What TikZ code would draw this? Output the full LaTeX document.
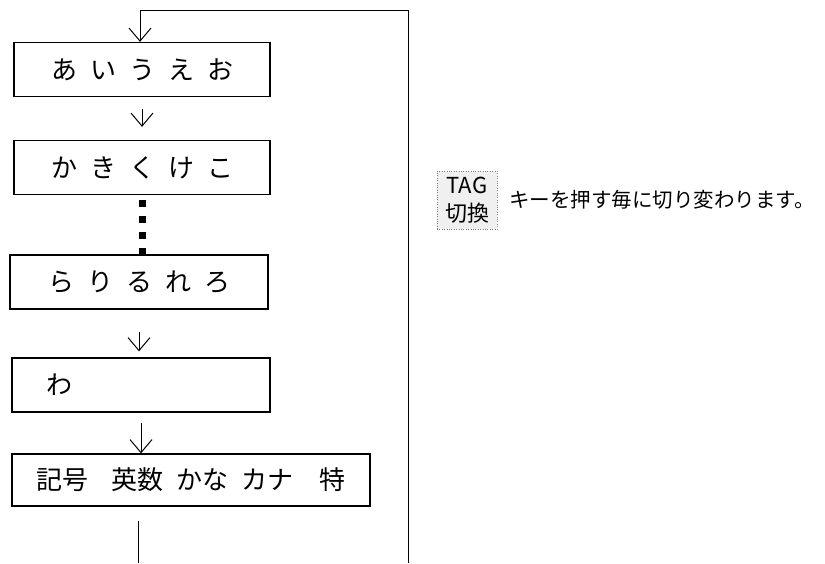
\documentclass[tikz,border=0pt]{standalone}
\usepackage{fontspec}
\setmainfont{Noto Sans CJK JP}
\usetikzlibrary{arrows.meta,calc}
\tikzset{
  kbox/.style={draw,line width=1.3pt,minimum height=54pt,inner sep=0pt,font=\fontsize{26}{26}\selectfont},
  arr/.style={-{Straight Barb[length=13pt,width=22pt]},line width=1pt},
  ln/.style={line width=1pt},
  dots/.style={line width=7pt,dash pattern=on 7pt off 9pt},
  key/.style={draw=gray,dotted,fill=gray!12,minimum width=60pt,minimum height=58pt,inner sep=0pt,align=center,font=\fontsize{22}{28}\selectfont},
  note/.style={anchor=west,inner sep=0pt,font=\fontsize{20.5}{20.5}\selectfont}
}
\newcommand{\kg}{\hspace{0.5em}}

\begin{document}
\begin{tikzpicture}[x=1pt,y=-1pt]
\useasboundingbox (0,0) rectangle (825,563);
% mode boxes
\node[kbox,minimum width=256pt] (b1) at (142,69.5) {あ\kg い\kg う\kg え\kg お};
\node[kbox,minimum width=256pt] (b2) at (142,167.5) {か\kg き\kg く\kg け\kg こ};
\node[kbox,minimum width=258pt] (b3) at (139,282) {ら\kg り\kg る\kg れ\kg ろ};
\node[kbox,minimum width=258pt,text width=190pt,align=left] (b4) at (141,385) {わ};
\node[kbox,minimum width=358pt,minimum height=52pt] (b5) at (191,480) {記号\hspace{0.85em}英数\kg かな\kg カナ\hspace{1em}特};
% arrows between boxes
\draw[arr,shorten <=12pt,shorten >=13pt] (b1.south) -- (b1.south |- b2.north);
\draw[dots,shorten <=5pt] (b2.south) -- (b2.south |- b3.north);
\draw[arr,shorten <=22pt,shorten >=6pt] (b3.south) -- (b3.south |- b4.north);
\draw[arr,shorten <=10pt] (b4.south) -- (b4.south |- b5.north);
% return loop
\coordinate (lt) at (140,10);
\coordinate (rt) at (408,10);
\coordinate (rb) at (408,563);
\coordinate (lb) at (138,563);
\draw[arr] (rb) -- (rt) -- (lt) -- (lt |- b1.north);
\draw[ln,shorten <=14pt] (lb |- b5.south) -- (lb);
% key note
\node[key] (tag) at (467,200) {TAG\\切換};
\node[note] (msg) at (509,200) {キーを押す毎に切り変わります。};
\end{tikzpicture}
\end{document}
